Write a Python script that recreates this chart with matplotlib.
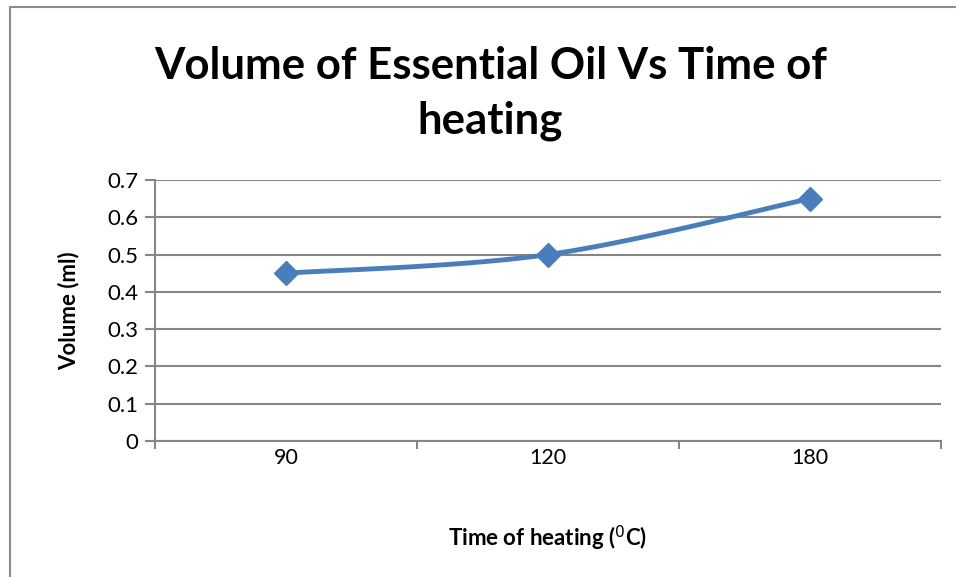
import numpy as np
import matplotlib.pyplot as plt
from matplotlib.patches import Rectangle

categories = ['90', '120', '180']
volume = [0.45, 0.5, 0.65]

plt.rcParams['font.family'] = ['Lato', 'DejaVu Sans']

fig = plt.figure(figsize=(9.56, 5.77), dpi=100)
ax = fig.add_axes([155/956, 1 - 441/577, (941 - 155)/956, (441 - 180)/577])

# chart border (Excel style frame, cut at right/bottom)
fig.patches.append(Rectangle((10/956, -0.1), 1.2, 1 - 7/577 + 0.1, transform=fig.transFigure,
                             fill=False, edgecolor='#8c8c8c', linewidth=1.5))

xs = np.arange(len(categories)) + 0.5
ys = np.array(volume)

# smoothed line like Excel (Catmull-Rom through the points)
px = np.concatenate([[xs[0]], xs, [xs[-1]]])
py = np.concatenate([[ys[0]], ys, [ys[-1]]])
cx, cy = [], []
t = np.linspace(0, 1, 40)
for i in range(1, len(px) - 2):
    p0, p1, p2, p3 = np.array([px[i-1], py[i-1]]), np.array([px[i], py[i]]), \
        np.array([px[i+1], py[i+1]]), np.array([px[i+2], py[i+2]])
    c1 = p1 + (p2 - p0) / 6
    c2 = p2 - (p3 - p1) / 6
    pts = ((1-t)**3)[:, None]*p1 + (3*(1-t)**2*t)[:, None]*c1 + (3*(1-t)*t**2)[:, None]*c2 + (t**3)[:, None]*p2
    cx.extend(pts[:, 0]); cy.extend(pts[:, 1])
ax.plot(cx, cy, color='#4a7ebb', linewidth=3.5, solid_capstyle='round', zorder=3)
ax.plot(xs, ys, linestyle='none', marker='D', markersize=12, color='#4a7ebb', zorder=4)

ax.set_xlim(0, 3)
ax.set_ylim(0, 0.7)
ax.set_yticks(np.arange(0, 0.71, 0.1))
ax.set_yticklabels(['0', '0.1', '0.2', '0.3', '0.4', '0.5', '0.6', '0.7'])
ax.set_xticks([0, 1, 2, 3])
ax.set_xticklabels([])
ax.set_xticks(xs, minor=True)
ax.set_xticklabels(categories, minor=True)
ax.tick_params(axis='x', which='minor', length=0, pad=5, labelsize=15.5)
ax.tick_params(axis='x', which='major', length=6, width=1.5, color='#868686')
ax.tick_params(axis='y', length=7, width=1.5, color='#868686', labelsize=16, pad=5)

ax.grid(axis='y', color='#868686', linewidth=1.5)
ax.set_axisbelow(True)
for s in ['top', 'right']:
    ax.spines[s].set_visible(False)
for s in ['left', 'bottom']:
    ax.spines[s].set_color('#868686')
    ax.spines[s].set_linewidth(1.5)

ax.set_ylabel('Volume (ml)', fontsize=16, fontweight='bold', labelpad=20)
ax.set_xlabel('Time of heating ($^{0}$C)', fontsize=16, fontweight='bold', labelpad=40)
fig.text(0.513, 0.838, 'Volume of Essential Oil Vs Time of\nheating', ha='center', va='center',
         fontsize=31.5, fontweight='bold', linespacing=1.42)

fig.savefig('out.png', dpi=100)
